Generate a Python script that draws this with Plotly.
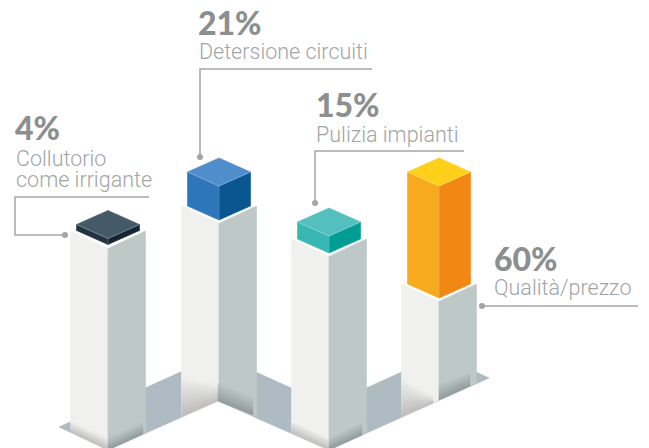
import plotly.graph_objects as go

# Data
values = [4, 21, 15, 60]
labels = [["Collutorio", "come irrigante"], ["Detersione circuiti"], ["Pulizia impianti"], ["Qualità/prezzo"]]
block_heights = [6, 34, 17, 112]          # drawn heights of the coloured blocks
block_levels = [224.5, 172, 222, 172]     # y of the block side corners
pillar_levels = [231, 206, 239, 284]      # y of the pillar side corners
centers = [108, 219, 329, 439]
top_colors = ["#455a69", "#4f8dcb", "#55bfbf", "#ffcf1a"]
left_colors = ["#22333f", "#2e76ba", "#38b6b3", "#f8aa1f"]
right_colors = ["#152533", "#0a5690", "#009d94", "#f38714"]

W, H = 649, 448
BW, BH = 31.5, 14
PW, PH = 37.5, 17.5
LEFT, RIGHT, FLOOR = "#f0f0ef", "#bec8c7", "#aebbc3"
TXT1, TXT2, LINE = "#8c8f90", "#a2a5a6", "#a3a5a6"

fig = go.Figure()


def poly(pts, color, line=None, lw=0.6):
    fig.add_trace(go.Scatter(x=[p[0] for p in pts] + [pts[0][0]], y=[p[1] for p in pts] + [pts[0][1]],
                             mode="lines", fill="toself", fillcolor=color,
                             line=dict(color=line or color, width=lw), hoverinfo="skip", showlegend=False))


def mix(a, b, t):
    ca = [int(a[i:i + 2], 16) for i in (1, 3, 5)]
    cb = [int(b[i:i + 2], 16) for i in (1, 3, 5)]
    return "#%02x%02x%02x" % tuple(round(u + (v - u) * t) for u, v in zip(ca, cb))


def shade(x0, x1, top0, top1, bot0, bot1, c0, c1, n=12):
    for i in range(n):
        t0, t1 = i / n, (i + 1) / n
        poly([(x0, top0 + (bot0 - top0) * t0), (x1, top1 + (bot1 - top1) * t0),
              (x1, top1 + (bot1 - top1) * t1), (x0, top0 + (bot0 - top0) * t1)], mix(c0, c1, (t0 + t1) / 2), lw=0.4)


# Floor
poly([(59, 427), (108, 405), (218, 355), (329, 405), (439, 355), (489, 378), (329, 450), (218, 401), (108, 450)], FLOOR)

# Pillars: bottom y at (left, centre, right)
pillar_bottoms = [(432, 450, 433), (417, 401, 417), (433, 450, 433), (417, 400, 383)]
for c, lvl, b in zip(centers, pillar_levels, pillar_bottoms):
    poly([(c - PW, lvl), (c, lvl + PH), (c, b[1]), (c - PW, b[0])], LEFT)
    poly([(c, lvl + PH), (c + PW, lvl), (c + PW, b[2]), (c, b[1])], RIGHT)

# Contact shadows at the feet of the pillars
shade(70.5, 108, 421, 438, 432, 450, LEFT, "#bdbcba")
shade(108, 143, 438, 422, 450, 434, RIGHT, "#8f9a98")
shade(181.5, 218, 375, 385, 417, 401, LEFT, "#bdbcba")
shade(218, 253, 383, 397, 401, 415, RIGHT, "#8f9a98")
shade(291.5, 329, 421, 438, 433, 450, LEFT, "#bdbcba")
shade(329, 362, 438, 422, 450, 435, RIGHT, "#8f9a98")
shade(401.5, 433, 377, 396, 417, 403, LEFT, "#bdbcba")
shade(439, 470, 384, 372, 400, 386, RIGHT, "#8f9a98")

# Blocks
for c, lvl, h, t, l, r in zip(centers, block_levels, block_heights, top_colors, left_colors, right_colors):
    poly([(c - BW, lvl), (c, lvl + BH), (c, lvl + BH + h), (c - BW, lvl + h)], l)
    poly([(c, lvl + BH), (c + BW, lvl), (c + BW, lvl + h), (c, lvl + BH + h)], r)
    poly([(c, lvl - BH), (c + BW, lvl), (c, lvl + BH), (c - BW, lvl)], t)
    fig.add_trace(go.Scatter(x=[c - BW, c, c + BW, None, c, c], y=[lvl, lvl + BH, lvl, None, lvl + BH, lvl + BH + h],
                             mode="lines", line=dict(color="rgba(255,255,255,0.35)", width=0.7),
                             hoverinfo="skip", showlegend=False))

# Leader lines
leaders = [
    ([149, 15, 15, 65], [197, 197, 235, 235]),
    ([372, 200, 200], [69, 69, 157]),
    ([464, 315, 315], [151, 151, 203]),
    ([638, 482], [306, 306]),
]
for xs, ys in leaders:
    fig.add_trace(go.Scatter(x=xs, y=ys, mode="lines", line=dict(color=LINE, width=1.5),
                             hoverinfo="skip", showlegend=False))
    fig.add_trace(go.Scatter(x=[xs[-1]], y=[ys[-1]], mode="markers", marker=dict(color=LINE, size=6),
                             hoverinfo="skip", showlegend=False))

# Text
value_pos = [(14, 127.5), (197, 22.5), (315, 104.5), (493, 258.5)]
label_pos = [[(14.5, 158.5), (14.5, 179.5)], [(197.5, 51.5)], [(315, 134.5)], [(493, 287)]]
ann = []
for v, (vx, vy), lab, pos in zip(values, value_pos, labels, label_pos):
    ann.append(dict(x=vx, y=vy, text=f"{v}%", xanchor="left", yanchor="middle", showarrow=False, borderpad=0,
                    font=dict(family="Lato", size=32, color=TXT1, weight=900)))
    for s, (x, y) in zip(lab, pos):
        ann.append(dict(x=x, y=y, text=s, xanchor="left", yanchor="middle", showarrow=False, borderpad=0,
                        font=dict(family="Roboto", size=21.5, color=TXT2, weight=300)))

fig.update_layout(width=W, height=H, margin=dict(l=0, r=0, t=0, b=0), paper_bgcolor="white", plot_bgcolor="white",
                  xaxis=dict(range=[0, W], visible=False, fixedrange=True),
                  yaxis=dict(range=[H, 0], visible=False, fixedrange=True),
                  annotations=ann, showlegend=False)
fig.write_html("out.html", config={"displayModeBar": False}, default_width=W, default_height=H,
               post_script="document.body.style.margin='0';document.documentElement.style.overflow='hidden';")
